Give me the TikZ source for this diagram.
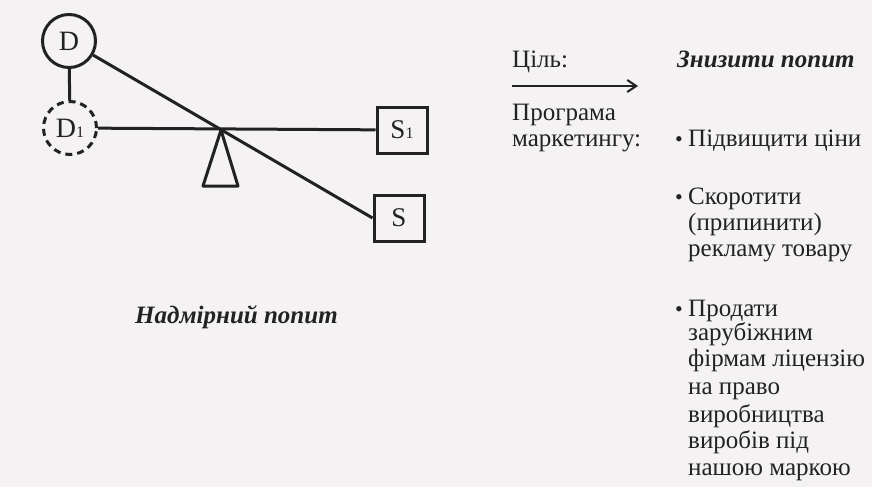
\documentclass[tikz,border=0pt]{standalone}
\usepackage{fontspec}
\setmainfont{Liberation Serif}
\usetikzlibrary{arrows.meta}
\definecolor{ink}{HTML}{222222}
\definecolor{paper}{HTML}{F4F2F2}
\begin{document}
\begin{tikzpicture}[x=1pt,y=-1pt,
  line/.style={draw=ink, line width=3pt},
  circ/.style={circle, draw=ink, line width=3pt, minimum size=53pt, inner sep=0pt,
    font=\fontsize{28}{28}\selectfont, text=ink},
  dcirc/.style={circ, dash pattern=on 7pt off 5pt},
  box/.style={rectangle, draw=ink, line width=3pt, minimum width=50pt, minimum height=46pt,
    inner sep=0pt, font=\fontsize{27}{27}\selectfont, text=ink},
  txt/.style={anchor=base west, inner sep=0pt, font=\fontsize{25}{28}\selectfont, text=ink},
  bul/.style={anchor=base west, inner sep=0pt, font=\fontsize{22}{22}\selectfont, text=ink},
  ttl/.style={anchor=base west, inner sep=0pt, font=\fontsize{25}{28}\selectfont\bfseries\itshape, text=ink}
]
\fill[paper] (0,0) rectangle (872,487);
\useasboundingbox (0,0) rectangle (872,487);

% left diagram
\node[circ]  (D)  at (69,41)  {D};
\node[dcirc] (D1) at (70,128) {D{\fontsize{16}{16}\selectfont 1}};
\node[box]   (S1) at (402,130) {S{\fontsize{16}{16}\selectfont 1}};
\node[box]   (S)  at (399,218) {S};
\coordinate (P) at (221,130);
\coordinate (B1) at (203,186);
\coordinate (B2) at (238,186);

\draw[line] (D) -- (D1);
\draw[line] (D1) -- (S1);
\draw[line] (D) -- (S.west);
\draw[line, line join=round] (P) -- (B1) -- (B2) -- cycle;

\node[ttl] (cap) at (135,323) {Надмірний попит};

% right side
\node[txt] (goal) at (512,67) {Ціль:};
\coordinate (a1) at (512,86);
\coordinate (a2) at (638,86);
\draw[draw=ink, line width=2pt, -{Straight Barb[length=9pt,width=12pt,line width=2pt]}] (a1) -- (a2);
\node[txt] (prog1) at (512,120) {Програма};
\node[txt] (prog2) at (512,146) {маркетингу:};

\node[ttl] (aim) at (677,67) {Знизити попит};

\node[bul] (d1) at (675,146) {•};
\node[txt] (b1) at (688,146) {Підвищити ціни};
\node[bul] (d2) at (675,204) {•};
\node[txt] (b2a) at (688,204) {Скоротити};
\node[txt] (b2b) at (688,230) {(припинити)};
\node[txt] (b2c) at (688,256) {рекламу товару};
\node[bul] (d3) at (675,316) {•};
\node[txt] (b3a) at (688,316) {Продати};
\node[txt] (b3b) at (688,340) {зарубіжним};
\node[txt] (b3c) at (688,366) {фірмам ліцензію};
\node[txt] (b3d) at (688,394) {на право};
\node[txt] (b3e) at (688,422) {виробництва};
\node[txt] (b3f) at (688,448) {виробів під};
\node[txt] (b3g) at (688,475) {нашою маркою};
\end{tikzpicture}
\end{document}
